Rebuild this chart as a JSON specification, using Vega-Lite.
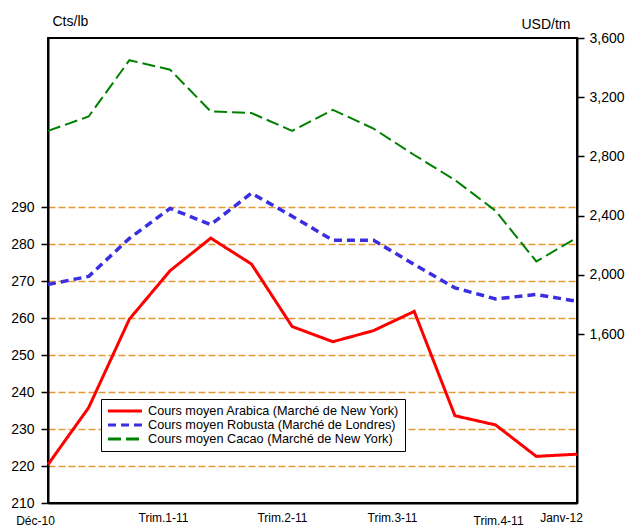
{
  "$schema": "https://vega.github.io/schema/vega-lite/v6.json",
  "width": 529,
  "height": 465,
  "autosize": {"type": "none"},
  "padding": {"left": 48, "top": 38, "right": 53, "bottom": 24},
  "background": "white",
  "config": {
    "font": "Liberation Sans",
    "view": {"stroke": "black", "strokeWidth": 2},
    "axis": {"labelFont": "Liberation Sans", "titleFont": "Liberation Sans", "labelColor": "black", "titleColor": "black", "domainColor": "black", "domainWidth": 2, "tickColor": "black", "tickWidth": 1.5, "titleFontWeight": "normal"},
    "legend": {"labelFont": "Liberation Sans"}
  },
  "data": {
    "values": [
      {"m": 0, "s": "Cours moyen Arabica (Marché de New York)", "v": 220.4},
      {"m": 1, "s": "Cours moyen Arabica (Marché de New York)", "v": 235.8},
      {"m": 2, "s": "Cours moyen Arabica (Marché de New York)", "v": 259.7},
      {"m": 3, "s": "Cours moyen Arabica (Marché de New York)", "v": 272.8},
      {"m": 4, "s": "Cours moyen Arabica (Marché de New York)", "v": 281.6},
      {"m": 5, "s": "Cours moyen Arabica (Marché de New York)", "v": 274.6},
      {"m": 6, "s": "Cours moyen Arabica (Marché de New York)", "v": 257.7},
      {"m": 7, "s": "Cours moyen Arabica (Marché de New York)", "v": 253.6},
      {"m": 8, "s": "Cours moyen Arabica (Marché de New York)", "v": 256.6},
      {"m": 9, "s": "Cours moyen Arabica (Marché de New York)", "v": 261.8},
      {"m": 10, "s": "Cours moyen Arabica (Marché de New York)", "v": 233.6},
      {"m": 11, "s": "Cours moyen Arabica (Marché de New York)", "v": 231.1},
      {"m": 12, "s": "Cours moyen Arabica (Marché de New York)", "v": 222.6},
      {"m": 13, "s": "Cours moyen Arabica (Marché de New York)", "v": 223.2},
      {"m": 0, "s": "Cours moyen Robusta (Marché de Londres)", "v": 1936},
      {"m": 1, "s": "Cours moyen Robusta (Marché de Londres)", "v": 1990},
      {"m": 2, "s": "Cours moyen Robusta (Marché de Londres)", "v": 2247},
      {"m": 3, "s": "Cours moyen Robusta (Marché de Londres)", "v": 2449},
      {"m": 4, "s": "Cours moyen Robusta (Marché de Londres)", "v": 2340},
      {"m": 5, "s": "Cours moyen Robusta (Marché de Londres)", "v": 2552},
      {"m": 6, "s": "Cours moyen Robusta (Marché de Londres)", "v": 2397},
      {"m": 7, "s": "Cours moyen Robusta (Marché de Londres)", "v": 2234},
      {"m": 8, "s": "Cours moyen Robusta (Marché de Londres)", "v": 2234},
      {"m": 9, "s": "Cours moyen Robusta (Marché de Londres)", "v": 2071},
      {"m": 10, "s": "Cours moyen Robusta (Marché de Londres)", "v": 1913},
      {"m": 11, "s": "Cours moyen Robusta (Marché de Londres)", "v": 1838},
      {"m": 12, "s": "Cours moyen Robusta (Marché de Londres)", "v": 1868},
      {"m": 13, "s": "Cours moyen Robusta (Marché de Londres)", "v": 1822},
      {"m": 0, "s": "Cours moyen Cacao (Marché de New York)", "v": 2973},
      {"m": 1, "s": "Cours moyen Cacao (Marché de New York)", "v": 3070},
      {"m": 2, "s": "Cours moyen Cacao (Marché de New York)", "v": 3450},
      {"m": 3, "s": "Cours moyen Cacao (Marché de New York)", "v": 3386},
      {"m": 4, "s": "Cours moyen Cacao (Marché de New York)", "v": 3104},
      {"m": 5, "s": "Cours moyen Cacao (Marché de New York)", "v": 3093},
      {"m": 6, "s": "Cours moyen Cacao (Marché de New York)", "v": 2973},
      {"m": 7, "s": "Cours moyen Cacao (Marché de New York)", "v": 3115},
      {"m": 8, "s": "Cours moyen Cacao (Marché de New York)", "v": 2988},
      {"m": 9, "s": "Cours moyen Cacao (Marché de New York)", "v": 2810},
      {"m": 10, "s": "Cours moyen Cacao (Marché de New York)", "v": 2641},
      {"m": 11, "s": "Cours moyen Cacao (Marché de New York)", "v": 2433},
      {"m": 12, "s": "Cours moyen Cacao (Marché de New York)", "v": 2091},
      {"m": 13, "s": "Cours moyen Cacao (Marché de New York)", "v": 2252}
    ]
  },
  "encoding": {
    "x": {
      "field": "m", "type": "quantitative",
      "scale": {"domain": [0, 13], "nice": false, "zero": false},
      "axis": {
        "title": null, "grid": false, "ticks": false, "tickSize": 0,
        "values": [0, 2.826, 5.75, 8.454, 11.06, 13],
        "labelExpr": "datum.value < 1 ? 'Déc-10' : datum.value < 4 ? 'Trim.1-11' : datum.value < 7 ? 'Trim.2-11' : datum.value < 10 ? 'Trim.3-11' : datum.value < 12 ? 'Trim.4-11' : 'Janv-12'",
        "labelFontSize": 12,
        "labelBaseline": "top",
        "labelFlush": false,
        "labelOverlap": false,
        "labelBound": false,
        "labelOffset": {"condition": [{"test": "datum.value < 1", "value": -13}, {"test": "datum.value > 12", "value": -16}], "value": 0},
        "labelPadding": {"condition": {"test": "datum.value < 1 || (datum.value > 11 && datum.value < 12)", "value": 12}, "value": 9}
      }
    },
    "color": {
      "field": "s", "type": "nominal",
      "scale": {
        "domain": ["Cours moyen Arabica (Marché de New York)", "Cours moyen Robusta (Marché de Londres)", "Cours moyen Cacao (Marché de New York)"],
        "range": ["#FF0000", "#3A2FE0", "#008000"]
      },
      "legend": {
        "title": null, "orient": "none", "legendX": 53, "legendY": 361,
        "fillColor": "white", "strokeColor": "black", "padding": 5,
        "labelFontSize": 12.7, "labelColor": "black", "labelOffset": 28,
        "symbolType": "M-0.91,0H5.29", "symbolSize": 120, "symbolStrokeWidth": 3,
        "rowPadding": 0, "labelLimit": 400
      }
    },
    "strokeDash": {
      "field": "s", "type": "nominal",
      "scale": {
        "domain": ["Cours moyen Arabica (Marché de New York)", "Cours moyen Robusta (Marché de Londres)", "Cours moyen Cacao (Marché de New York)"],
        "range": [[1, 0], [8, 5], [13, 5]]
      },
      "legend": {
        "title": null, "orient": "none", "legendX": 53, "legendY": 361,
        "fillColor": "white", "strokeColor": "black", "padding": 5,
        "labelFontSize": 12.7, "labelColor": "black", "labelOffset": 28,
        "symbolType": "M-0.91,0H5.29", "symbolSize": 120, "symbolStrokeWidth": 3,
        "rowPadding": 0, "labelLimit": 400
      }
    }
  },
  "layer": [
    {
      "transform": [{"filter": "datum.s === 'Cours moyen Arabica (Marché de New York)'"}],
      "mark": {"type": "line", "strokeWidth": 3},
      "encoding": {
        "y": {
          "field": "v", "type": "quantitative",
          "scale": {"domain": [210, 335.7], "nice": false, "zero": false},
          "axis": {
            "values": [210, 220, 230, 240, 250, 260, 270, 280, 290],
            "title": "Cts/lb", "titleAngle": 0, "titleAlign": "left", "titleBaseline": "alphabetic",
            "titleX": 4, "titleY": -13, "titleFontSize": 14,
            "labelFontSize": 14, "tickSize": 7, "labelPadding": 7,
            "grid": true, "gridColor": "#E39A34", "gridDash": [7, 3], "gridWidth": 1.5,
            "gridOpacity": {"condition": {"test": "datum.value === 210", "value": 0}, "value": 1}
          }
        }
      }
    },
    {
      "encoding": {
        "y": {
          "field": "v", "type": "quantitative",
          "scale": {"domain": [460, 3600], "nice": false, "zero": false},
          "axis": {
            "orient": "right",
            "values": [1600, 2000, 2400, 2800, 3200, 3600],
            "labelExpr": "format(datum.value, ',.0f')",
            "title": "USD/tm", "titleAngle": 0, "titleAlign": "right", "titleBaseline": "alphabetic",
            "titleX": -7, "titleY": -10, "titleFontSize": 14,
            "labelFontSize": 14, "tickSize": 7, "labelPadding": 5, "grid": false
          }
        }
      },
      "layer": [
        {
          "transform": [{"filter": "datum.s === 'Cours moyen Robusta (Marché de Londres)'"}],
          "mark": {"type": "line", "strokeWidth": 3.5}
        },
        {
          "transform": [{"filter": "datum.s === 'Cours moyen Cacao (Marché de New York)'"}],
          "mark": {"type": "line", "strokeWidth": 2}
        }
      ]
    }
  ],
  "resolve": {"scale": {"y": "independent"}}
}
